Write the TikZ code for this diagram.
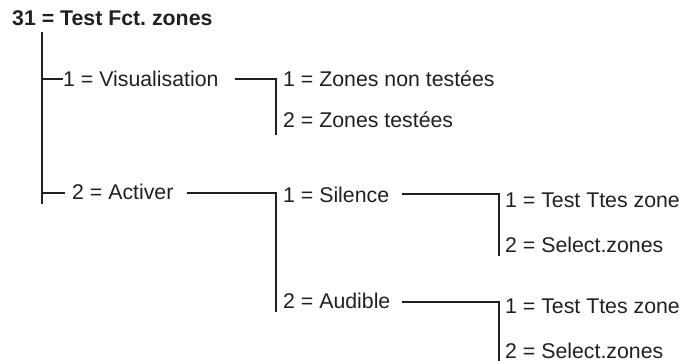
\documentclass[tikz,border=0pt]{standalone}
\usepackage{fontspec}
\setmainfont{Liberation Sans}
\frenchspacing
\definecolor{ink}{HTML}{231F20}
\begin{document}
\begin{tikzpicture}[x=1pt,y=-1pt,
  lbl/.style={anchor=base west,inner sep=0pt,text=ink,font=\fontsize{21.3}{25}\selectfont},
  ttl/.style={lbl,font=\fontsize{21.3}{25}\selectfont\bfseries},
  wire/.style={draw=ink,line width=1.5pt},
  mainwire/.style={draw=ink,line width=1.9pt}]
\useasboundingbox (0,0) rectangle (683,361);
% texts
\node[ttl] (title) at (12,26) {31 = Test Fct.\ zones};
\node[lbl] (vis) at (63,86) {1 = Visualisation};
\node[lbl] (act) at (72,199) {2 = Activer};
\node[lbl] (znt) at (283,86) {1 = Zones non testées};
\node[lbl] (zt) at (283,127) {2 = Zones testées};
\node[lbl] (sil) at (283,202) {1 = Silence};
\node[lbl] (aud) at (283,308) {2 = Audible};
\node[lbl] (st1) at (505,207) {1 = Test Ttes zone};
\node[lbl] (ss2) at (505,252) {2 = Select.zones};
\node[lbl] (at1) at (505,313) {1 = Test Ttes zone};
\node[lbl] (as2) at (505,358) {2 = Select.zones};
% coordinates
\coordinate (mtop) at (42,32);
\coordinate (mbot) at (42,204);
\coordinate (m1) at (42,79);
\coordinate (m2) at (42,193);
\coordinate (v0) at (235,79);
\coordinate (vc) at (276,79);
\coordinate (vb) at (276,135);
\coordinate (a0) at (187,193);
\coordinate (ac) at (276,193);
\coordinate (ab) at (276,312);
\coordinate (s0) at (402,194);
\coordinate (sc) at (499,194);
\coordinate (sb) at (499,256);
\coordinate (u0) at (402,302);
\coordinate (uc) at (499,302);
\coordinate (ub) at (499,361);
% connectors
\draw[mainwire] (mtop) -- (mbot);
\draw[wire] (m1) -- (vis.west |- m1);
\draw[wire] (m2) -- (65,193);
\draw[wire] (v0) -- (vc) -- (vb);
\draw[wire] (a0) -- (ac) -- (ab);
\draw[wire] (s0) -- (sc) -- (sb);
\draw[wire] (u0) -- (uc) -- (ub);
\end{tikzpicture}
\end{document}
